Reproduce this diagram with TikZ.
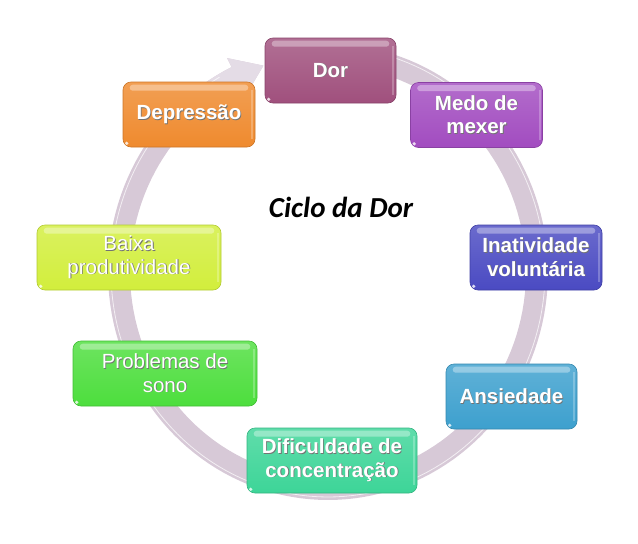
\documentclass[tikz,border=0pt]{standalone}
\usepackage{fontspec}
\setmainfont{Liberation Sans}
\newfontfamily\titlefont{Carlito}
\definecolor{ringc}{HTML}{D7C9D7}
\definecolor{ringhead}{HTML}{E4DCE6}
\definecolor{cDor}{HTML}{A0507D}
\definecolor{cMedo}{HTML}{A24CC0}
\definecolor{cInat}{HTML}{4A4AC2}
\definecolor{cAns}{HTML}{3DA0CE}
\definecolor{cDif}{HTML}{3DD598}
\definecolor{cProb}{HTML}{4DDE3D}
\definecolor{cBaixa}{HTML}{D2EE3C}
\definecolor{cDep}{HTML}{EF8A2E}
\newcommand\sht[1]{\leavevmode\rlap{\kern0.8pt\raisebox{-0.8pt}{\textcolor{black!55}{#1}}}#1}
\tikzset{
  cbox/.style={rounded corners=8pt, minimum height=65pt, inner sep=0pt,
    text=white, align=center, top color=#1!82!white, bottom color=#1,
    draw=#1!85!black, line width=0.6pt,
    font=\fontsize{20.5}{23.5}\selectfont\bfseries},
  regtext/.style={font=\fontsize{20.5}{23.5}\selectfont},
  titletext/.style={font=\titlefont\fontsize{29}{32}\selectfont\bfseries\itshape, text=black}
}
\begin{document}
\begin{tikzpicture}[x=1pt,y=-1pt]
\useasboundingbox (0,0) rectangle (638,544);
% ring with arrow head
\fill[ringc] plot[domain=80:-244,samples=140] ({328+220*cos(\x)},{272-228*sin(\x)})
  -- ({328+230*cos(-244)},{272-238*sin(-244)})
  -- ({328+209*cos(-252)},{272-217*sin(-252)})
  -- ({328+188*cos(-244)},{272-196*sin(-244)})
  -- plot[domain=-244:80,samples=140] ({328+198*cos(\x)},{272-206*sin(\x)}) -- cycle;
\fill[ringhead] plot[domain=-225:-244,samples=20] ({328+220*cos(\x)},{272-228*sin(\x)})
  -- ({328+230*cos(-244)},{272-238*sin(-244)})
  -- ({328+209*cos(-252)},{272-217*sin(-252)})
  -- ({328+188*cos(-244)},{272-196*sin(-244)})
  -- plot[domain=-244:-225,samples=20] ({328+198*cos(\x)},{272-206*sin(\x)}) -- cycle;
\draw[white, line width=0.8pt, opacity=0.7] plot[domain=80:-240,samples=140] ({328+217*cos(\x)},{272-225*sin(\x)});
% title
\node[titletext] (title) at (341,207) {Ciclo da Dor};
% boxes
\node[cbox=cDor, minimum width=131pt] (dor) at (330.5,70.5) {\sht{Dor}};
\node[cbox=cMedo, minimum width=132pt] (medo) at (476.5,115) {\sht{Medo de}\\\sht{mexer}};
\node[cbox=cInat, minimum width=132pt] (inat) at (536,257.5) {\sht{Inatividade}\\\sht{voluntária}};
\node[cbox=cAns, minimum width=131pt] (ans) at (511.5,396.5) {\sht{Ansiedade}};
\node[cbox=cDif, minimum width=170pt] (dif) at (332,460.5) {\sht{Dificuldade de}\\\sht{concentração}};
\node[cbox=cProb, minimum width=184pt, regtext] (prob) at (165,373.5) {\sht{Problemas de}\\\sht{sono}};
\node[cbox=cBaixa, minimum width=184pt, regtext] (baixa) at (129,257.5) {\sht{Baixa}\\\sht{produtividade}};
\node[cbox=cDep, minimum width=132pt] (dep) at (189,114.5) {\sht{Depressão}};
% glossy highlights
\foreach \n in {dor,medo,inat,ans,dif,prob,baixa,dep}{
  \fill[white, opacity=0.35, rounded corners=3pt] ([xshift=7pt,yshift=-3pt]\n.north west) rectangle ([xshift=-7pt,yshift=-9pt]\n.north east);
  \fill[white, opacity=0.25] ([xshift=-4pt,yshift=-8pt]\n.north east) rectangle ([xshift=-2pt,yshift=8pt]\n.south east);
  \fill[white, opacity=0.8] ([xshift=4pt,yshift=4pt]\n.south west) circle (1.8pt);
}
\end{tikzpicture}
\end{document}
